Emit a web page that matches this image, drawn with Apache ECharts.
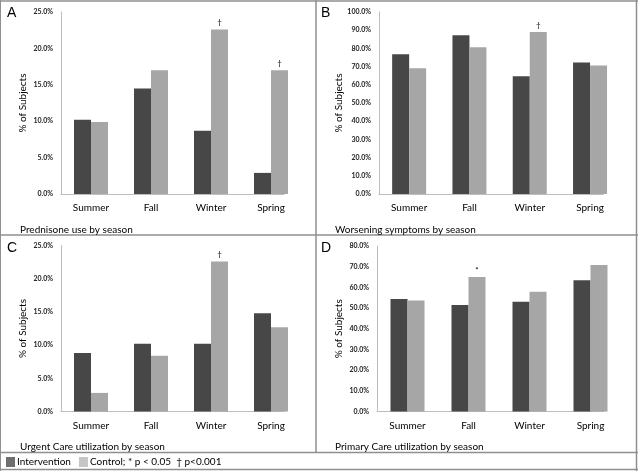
<!DOCTYPE html>
<html>
<head>
<meta charset="utf-8">
<script src="https://cdn.jsdelivr.net/npm/echarts@6/dist/echarts.min.js"></script>
<style>html,body{margin:0;padding:0;background:#fff}#c{width:638px;height:471px}</style>
</head>
<body>
<div id="c"></div>
<script>
var seasons = ['Summer', 'Fall', 'Winter', 'Spring'];
var aIntervention = [10.2, 14.5, 8.7, 2.9];
var aControl = [9.9, 17.0, 22.6, 17.0];
var aMarks = ['', '', '\u2020', '\u2020'];
var bIntervention = [76.8, 87.2, 64.7, 72.2];
var bControl = [69.1, 80.6, 89.0, 70.6];
var bMarks = ['', '', '\u2020', ''];
var cIntervention = [8.8, 10.2, 10.2, 14.8];
var cControl = [2.8, 8.4, 22.6, 12.7];
var cMarks = ['', '', '\u2020', ''];
var dIntervention = [54.4, 51.5, 53.0, 63.4];
var dControl = [53.6, 65.0, 57.9, 70.8];
var dMarks = ['', '*', '', ''];
var yMax = [25, 100, 25, 80];
var yInterval = [5, 10, 5, 10];
var panelTitles = ['Prednisone use by season', 'Worsening symptoms by season', 'Urgent Care utilization by season', 'Primary Care utilization by season'];
var panelLetters = ['A', 'B', 'C', 'D'];
var seriesNames = ['Intervention', 'Control; * p < 0.05  \u2020 p<0.001'];

var FONT = 'Lato';
var DARK = '#474747', LIGHT = '#a6a6a6';
var XMAX = 3.22;
var grids = [
  {left: 61, top: 12, unit: 60, height: 182},
  {left: 379, top: 12, unit: 60.3, height: 182},
  {left: 61, top: 245.5, unit: 60, height: 166},
  {left: 377, top: 246, unit: 61, height: 165.5}
];
var inter = [aIntervention, bIntervention, cIntervention, dIntervention];
var ctrl = [aControl, bControl, cControl, dControl];
var marks = [aMarks, bMarks, cMarks, dMarks];

var option = {animation: false, grid: [], xAxis: [], yAxis: [], series: [], graphic: []};
grids.forEach(function (g, i) {
  option.grid.push({left: g.left, top: g.top, width: g.unit * (XMAX + 0.5), height: g.height, containLabel: false});
  option.xAxis.push({
    type: 'value', gridIndex: i, min: -0.5, max: XMAX,
    axisLine: {show: true, onZero: false, lineStyle: {color: '#bdbdbd', width: 1}},
    axisTick: {show: false}, splitLine: {show: false},
    axisLabel: {customValues: [0, 1, 2, 3], formatter: function (v) { return seasons[Math.round(v)]; },
      fontFamily: FONT, fontSize: 10, color: '#000', margin: 9, showMinLabel: true, showMaxLabel: true}
  });
  option.yAxis.push({
    type: 'value', gridIndex: i, min: 0, max: yMax[i], interval: yInterval[i],
    axisLine: {show: true, onZero: false, lineStyle: {color: '#bdbdbd', width: 1}},
    axisTick: {show: false}, splitLine: {show: false},
    axisLabel: {formatter: function (v) { return v.toFixed(1) + '%'; }, fontFamily: FONT, fontSize: 7, fontWeight: 'bold', color: '#222', margin: 8},
    name: '% of Subjects', nameLocation: 'middle', nameGap: 33,
    nameTextStyle: {fontFamily: FONT, fontSize: 10, color: '#000'}
  });
  option.series.push({
    type: 'bar', name: seriesNames[0], xAxisIndex: i, yAxisIndex: i, barWidth: 17, barGap: '0%',
    itemStyle: {color: DARK},
    data: inter[i].map(function (v, k) { return [k, v]; })
  });
  option.series.push({
    type: 'bar', name: seriesNames[1], xAxisIndex: i, yAxisIndex: i, barWidth: 17, barGap: '0%',
    itemStyle: {color: LIGHT},
    data: ctrl[i].map(function (v, k) {
      return marks[i][k] ? {value: [k, v], label: {show: true, position: 'top', distance: 3, formatter: marks[i][k], fontSize: 8, color: '#000', fontFamily: FONT}} : [k, v];
    })
  });
});

option.legend = {
  left: 6, top: 457, padding: 0, itemWidth: 9, itemHeight: 10, itemGap: 8, icon: 'rect',
  textStyle: {fontFamily: FONT, fontSize: 10, color: '#000', padding: [0, 0, 0, -3]},
  data: [{name: seriesNames[0], itemStyle: {color: '#6e6e6e'}}, {name: seriesNames[1], itemStyle: {color: '#c6c6c6'}}]
};

var LC = '#8f8f8f';
function line(x1, y1, x2, y2, w) {
  option.graphic.push({type: 'line', shape: {x1: x1, y1: y1, x2: x2, y2: y2}, style: {stroke: LC, lineWidth: w || 1.5}, silent: true});
}
line(0, 1, 638, 1);
line(636.5, 0, 636.5, 471);
line(316, 0, 316, 453);
line(0, 235, 638, 235);
line(0, 452.5, 638, 452.5);
line(0, 469.5, 638, 469.5);
line(0.5, 0, 0.5, 471, 1);

var letterPos = [[7, 6], [321, 6], [7, 241], [321, 241]];
var titlePos = [[20, 230], [335, 230], [20, 447], [335, 447]];
for (var i = 0; i < 4; i++) {
  option.graphic.push({type: 'text', left: letterPos[i][0], top: letterPos[i][1], style: {text: panelLetters[i], font: '14px "Liberation Sans"', fill: '#000'}});
  option.graphic.push({type: 'text', x: titlePos[i][0], y: titlePos[i][1], style: {text: panelTitles[i], font: '10px ' + FONT, fill: '#000', verticalAlign: 'middle'}});
}

var chart = echarts.init(document.getElementById('c'), null, {renderer: 'canvas'});
chart.setOption(option);
</script>
</body>
</html>
